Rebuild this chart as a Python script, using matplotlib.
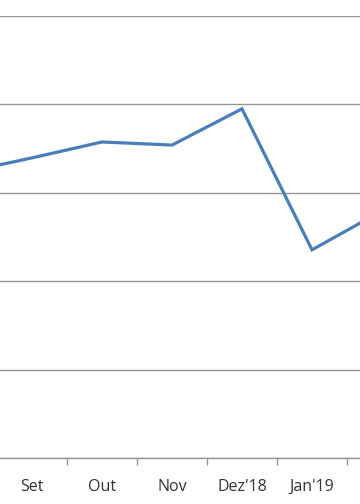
import numpy as np
import matplotlib.pyplot as plt

months = ['Ago', 'Set', 'Out', 'Nov', "Dez'18", "Jan'19", 'Fev']
values = [64.5, 67.9, 71.5, 70.8, 79.0, 47.1, 55.9]

plt.rcParams['font.family'] = ['Open Sans', 'DejaVu Sans']

fig = plt.figure(figsize=(3.6, 5.04), dpi=100)
# axes wider than the figure: the picture is a crop of a larger chart
ax = fig.add_axes([-73 / 360, 46 / 504, 490 / 360, 442 / 504])

x = np.arange(len(months))
ax.plot(x, values, color='#4A7EBB', linewidth=2.3, solid_joinstyle='miter')

ax.set_xlim(-0.5, len(months) - 0.5)
ax.set_ylim(0, 100)
ax.set_yticks(np.arange(0, 101, 20))
ax.yaxis.grid(True, color='#969696', linewidth=1.0)
ax.set_axisbelow(True)

for s in ['top', 'left', 'right']:
    ax.spines[s].set_visible(False)
ax.spines['bottom'].set_color('#969696')
ax.spines['bottom'].set_linewidth(1.0)

# first and last month fall outside the cropped picture
labels = [''] + months[1:-1] + ['']
ax.set_xticks(x)
ax.set_xticklabels(labels, fontsize=11.5, color='#333333')
ax.tick_params(axis='x', which='major', length=0, pad=15)
ax.set_xticks(x[:-1] + 0.5, minor=True)
ax.tick_params(axis='x', which='minor', length=5, color='#969696', width=1.0)
ax.tick_params(axis='y', left=False, labelleft=False)

fig.savefig('out.png', dpi=100)
